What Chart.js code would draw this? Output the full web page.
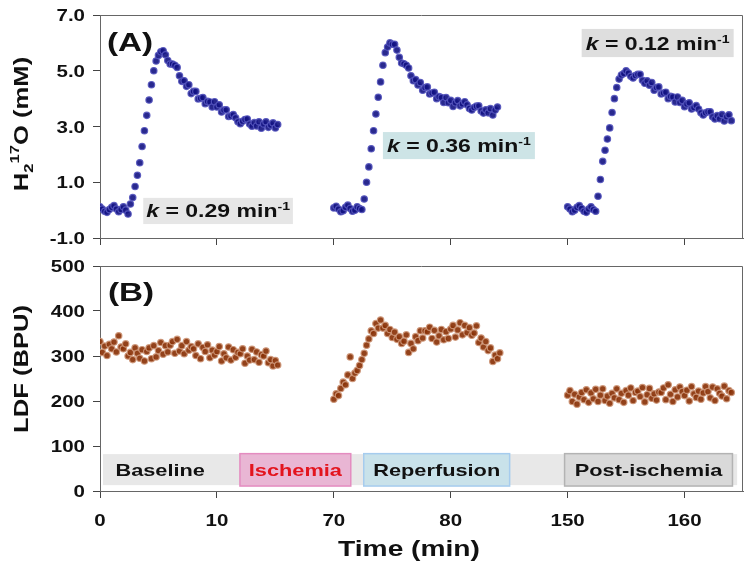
<!DOCTYPE html>
<html>
<head>
<meta charset="utf-8">
<title>H2 17O and LDF time course</title>
<script src="https://cdn.jsdelivr.net/npm/chart.js@4.4.1/dist/chart.umd.min.js"></script>
<style>
  body { margin: 0; background: #fff; }
  #wrap { position: relative; width: 750px; height: 570px; }
  #wrap canvas { position: absolute; left: 0; }
</style>
</head>
<body>
<div id="wrap">
  <canvas id="chartA" width="750" height="250" style="top:0px"></canvas>
  <canvas id="chartB" width="750" height="320" style="top:250px"></canvas>
</div>
<script>
// sampling and axis breaks
var sampleStep = 0.2;              // minutes between readings
var windowStart = [0, 70, 150];    // start of each recording window (min)
var axisCut = [0, 50, 110];        // minutes removed by each break of the time axis

var timeTicks = [0, 10, 20, 30, 40, 50];
var timeTickLabels = ['0', '10', '70', '80', '150', '160'];
var h2oTicks = [-1, 1, 3, 5, 7];
var ldfTicks = [0, 100, 200, 300, 400, 500];

// (A) H2 17O, mM
var h2oWindow1 = [
  0.12, 0.04, -0.04, -0.08, 0.02, 0.10, 0.16, 0.04, -0.06, 0.02, 0.12, 0.00, -0.14,
  0.22, 0.45, 0.85, 1.25, 1.70, 2.28, 2.85, 3.40, 3.95, 4.50, 5.00, 5.35, 5.55, 5.68,
  5.72, 5.57, 5.37, 5.24, 5.24, 5.20, 5.12, 4.82, 4.62, 4.64,
  4.44, 4.50, 4.18, 4.26, 4.26, 3.99, 4.01, 4.04, 3.82, 3.90,
  3.88, 3.70, 3.89, 3.70, 3.78, 3.52, 3.59, 3.60, 3.36, 3.38,
  3.43, 3.31, 3.17, 3.10, 3.19, 3.25, 3.27, 3.09, 3.01, 3.14,
  3.02, 3.17, 2.94, 3.09, 3.17, 2.97, 3.05, 3.13, 2.95, 3.07
];
var h2oWindow2 = [
  0.08, 0.14, 0.04, -0.06, -0.02, 0.10, 0.18, 0.06, -0.04, 0.00, 0.12, 0.06, 0.02,
  0.40, 1.00, 1.55, 2.20, 2.85, 3.45, 4.05, 4.60, 5.20, 5.65, 5.85, 6.00, 5.95,
  5.95, 5.74, 5.48, 5.28, 5.25, 5.20, 5.10, 4.82, 4.64, 4.68,
  4.49, 4.58, 4.30, 4.40, 4.42, 4.17, 4.20, 4.23, 4.00, 4.07,
  4.04, 3.86, 4.04, 3.85, 3.94, 3.72, 3.85, 3.93, 3.74, 3.81,
  3.89, 3.78, 3.65, 3.59, 3.68, 3.73, 3.74, 3.56, 3.48, 3.60,
  3.49, 3.64, 3.41, 3.59, 3.70
];
var h2oWindow3 = [
  0.12, 0.04, -0.06, 0.00, 0.10, 0.16, 0.06, -0.04, -0.08, 0.04, 0.12, 0.02, -0.04,
  0.50, 1.10, 1.75, 2.15, 2.55, 2.95, 3.50, 4.00, 4.40, 4.70, 4.85, 4.90,
  5.00, 4.92, 4.80, 4.74, 4.83, 4.87, 4.87, 4.66, 4.55, 4.64,
  4.48, 4.58, 4.30, 4.40, 4.42, 4.17, 4.20, 4.23, 4.00, 4.08,
  4.06, 3.88, 4.06, 3.86, 3.94, 3.71, 3.81, 3.85, 3.63, 3.68,
  3.75, 3.63, 3.49, 3.41, 3.49, 3.53, 3.53, 3.35, 3.27, 3.39,
  3.28, 3.43, 3.20, 3.35, 3.42, 3.21
];

// (B) LDF, BPU
var ldfWindow1 = [
  332, 308, 322, 301, 326, 316, 331, 309, 345, 320,
  316, 327, 300, 308, 292, 318, 306, 295, 314, 289,
  310, 318, 294, 323, 298, 312, 330, 304, 323, 309,
  324, 332, 306, 337, 311, 323, 305, 332, 313, 321,
  316, 301, 327, 294, 319, 310, 325, 296, 313, 302,
  310, 321, 289, 305, 296, 320, 291, 314, 297, 308,
  305, 316, 284, 300, 291, 315, 292, 309, 286, 303,
  300, 311, 285, 292, 278, 290, 280
];
var ldfWindow2 = [
  204, 216, 212, 228, 242, 236, 258, 298, 250, 262,
  268, 279, 292, 306, 324, 338, 356, 350, 372, 362,
  380, 362, 368, 350, 359, 341, 353, 337, 343, 328,
  333, 347, 308, 328, 316, 343, 334, 356, 340, 356,
  354, 364, 339, 357, 331, 345, 359, 336, 354, 339,
  360, 368, 342, 358, 374, 347, 368, 352, 363, 346,
  351, 367, 330, 340, 320, 332, 312, 318, 288, 302,
  294, 307
];
var ldfWindow3 = [
  213, 223, 199, 215, 193, 209, 219, 203, 225, 197,
  218, 205, 226, 199, 213, 227, 201, 211, 195, 217,
  207, 227, 203, 217, 197, 223, 213, 229, 201, 219,
  222, 210, 230, 198, 214, 228, 206, 216, 202, 220,
  219, 229, 203, 236, 215, 199, 225, 209, 231, 221,
  212, 224, 200, 232, 216, 208, 222, 204, 218, 232,
  221, 207, 231, 201, 227, 217, 211, 233, 205, 223,
  219
];

var kRates = ['0.29', '0.36', '0.12'];
var phaseNames = ['Baseline', 'Ischemia', 'Reperfusion', 'Post-ischemia'];

// label boxes, in axis units (x is minutes on the cut axis)
var kBoxes = [
  { x0: 3.7, x1: 16.5, y0: -0.5, y1: 0.44, fill: '#e6e6e6' },
  { x0: 24.2, x1: 37.2, y0: 1.83, y1: 2.8, fill: '#cde4e6' },
  { x0: 41.2, x1: 54.2, y0: 5.49, y1: 6.5, fill: '#dedede' }
];
var phaseBand = { x0: 0.26, x1: 54.5, y0: 13, y1: 82, fill: '#e8e8e8' };
var phaseBoxes = [
  { x0: 0.9, x1: 9.4, fill: null, edge: null, color: '#111' },
  { x0: 11.97, x1: 21.45, fill: '#e9b6d4', edge: '#e48cc0', color: '#e3141e' },
  { x0: 22.56, x1: 35.04, fill: '#c9e2ea', edge: '#a6ccee', color: '#111' },
  { x0: 39.74, x1: 54.1, fill: '#d9d9d9', edge: '#b3b3b3', color: '#111' }
];

var STRETCH = 1.28;
var FAMILY = '"Liberation Sans", Arial, sans-serif';

function font(size, italic) {
  return (italic ? 'italic ' : '') + 'bold ' + size + 'px ' + FAMILY;
}

function toPoints(windows) {
  var pts = [];
  windows.forEach(function (vals, w) {
    vals.forEach(function (v, i) {
      pts.push({ x: windowStart[w] + i * sampleStep - axisCut[w], y: v });
    });
  });
  return pts;
}

// draws runs of text, stretched a little sideways like the original figure
function drawText(ctx, runs, x, y, align, rotated) {
  ctx.save();
  ctx.translate(x, y);
  if (rotated) ctx.rotate(-Math.PI / 2);
  ctx.scale(STRETCH, 1);
  var total = 0;
  runs.forEach(function (r) {
    ctx.font = r.font;
    r.w = ctx.measureText(r.text).width;
    total += r.w;
  });
  var cx = align === 'center' ? -total / 2 : (align === 'right' ? -total : 0);
  ctx.textAlign = 'left';
  ctx.textBaseline = 'alphabetic';
  runs.forEach(function (r) {
    ctx.font = r.font;
    ctx.fillStyle = r.color || '#111';
    ctx.fillText(r.text, cx, r.dy || 0);
    cx += r.w;
  });
  ctx.restore();
}

function drawFrame(chart) {
  var a = chart.chartArea, ctx = chart.ctx;
  var l = Math.round(a.left) + 0.5, r = Math.round(a.right) - 0.5, t = Math.round(a.top) + 0.5;
  ctx.save();
  ctx.strokeStyle = '#666';
  ctx.lineWidth = 1;
  ctx.beginPath();
  ctx.moveTo(l, t);
  ctx.lineTo(r, t);
  ctx.lineTo(r, a.bottom);
  ctx.stroke();
  ctx.restore();
}

function drawYTickLabels(chart, values, digits) {
  var s = chart.scales.y;
  values.forEach(function (v) {
    drawText(chart.ctx, [{ text: v.toFixed(digits), font: font(16) }], 85, s.getPixelForValue(v) + 6, 'right');
  });
}

function rect(chart, b) {
  var xs = chart.scales.x, ys = chart.scales.y;
  var x0 = xs.getPixelForValue(b.x0), x1 = xs.getPixelForValue(b.x1);
  var y0 = ys.getPixelForValue(b.y1), y1 = ys.getPixelForValue(b.y0);
  return { x: x0, y: y0, w: x1 - x0, h: y1 - y0, cx: (x0 + x1) / 2, cy: (y0 + y1) / 2 };
}

function scaleOptions(yMin, yMax, yTicks, xHeight) {
  var tickGrid = { drawOnChartArea: false, drawTicks: true, tickLength: 7, color: '#444', lineWidth: 1 };
  return {
    x: {
      type: 'linear', min: 0, max: 55,
      afterBuildTicks: function (s) { s.ticks = timeTicks.map(function (v) { return { value: v }; }); },
      afterFit: function (s) { s.height = xHeight; },
      ticks: { display: false },
      grid: tickGrid,
      border: { display: true, color: '#666', width: 1 }
    },
    y: {
      type: 'linear', min: yMin, max: yMax,
      afterBuildTicks: function (s) { s.ticks = yTicks.map(function (v) { return { value: v }; }); },
      afterFit: function (s) { s.width = 100; },
      ticks: { display: false },
      grid: tickGrid,
      border: { display: true, color: '#666', width: 1 }
    }
  };
}

function chartOptions(padTop, scales) {
  return {
    responsive: false,
    animation: false,
    events: [],
    layout: { padding: { top: padTop, right: 7, left: 0, bottom: 0 } },
    plugins: { legend: { display: false }, tooltip: { enabled: false } },
    elements: { point: { radius: 3.2, borderWidth: 1.2 } },
    scales: scales
  };
}

var decorA = {
  id: 'decorA',
  afterDraw: function (chart) {
    var ctx = chart.ctx;
    drawFrame(chart);
    drawYTickLabels(chart, h2oTicks, 1);
    drawText(ctx, [
      { text: 'H', font: font(20) },
      { text: '2', font: font(13), dy: 5 },
      { text: '17', font: font(13), dy: -9 },
      { text: 'O (mM)', font: font(20) }
    ], 28, 124, 'center', true);
    drawText(ctx, [{ text: '(A)', font: font(26) }], 107, 51, 'left');

    kBoxes.forEach(function (b, i) {
      var r = rect(chart, b);
      ctx.fillStyle = b.fill;
      ctx.fillRect(r.x, r.y, r.w, r.h);
      drawText(ctx, [
        { text: 'k', font: font(18, true) },
        { text: ' = ' + kRates[i] + ' min', font: font(18) },
        { text: '-1', font: font(11), dy: -7 }
      ], r.cx, r.cy + 6.5, 'center');
    });
  }
};

var decorB = {
  id: 'decorB',
  afterDraw: function (chart) {
    var ctx = chart.ctx;
    var xs = chart.scales.x;

    var band = rect(chart, phaseBand);
    ctx.fillStyle = phaseBand.fill;
    ctx.fillRect(band.x, band.y, band.w, band.h);
    phaseBoxes.forEach(function (b, i) {
      var r = rect(chart, { x0: b.x0, x1: b.x1, y0: 11, y1: 83 });
      if (b.fill) {
        ctx.fillStyle = b.fill;
        ctx.fillRect(r.x, r.y, r.w, r.h);
        ctx.strokeStyle = b.edge;
        ctx.lineWidth = 1.5;
        ctx.strokeRect(r.x, r.y, r.w, r.h);
      }
      drawText(ctx, [{ text: phaseNames[i], font: font(17), color: b.color }], r.cx, r.cy + 6, 'center');
    });

    drawFrame(chart);
    drawYTickLabels(chart, ldfTicks, 0);
    timeTicks.forEach(function (v, i) {
      drawText(ctx, [{ text: timeTickLabels[i], font: font(16) }], xs.getPixelForValue(v), 276, 'center');
    });
    drawText(ctx, [{ text: 'Time (min)', font: font(22) }], 409, 306, 'center');
    drawText(ctx, [{ text: 'LDF (BPU)', font: font(20) }], 28, 119, 'center', true);
    drawText(ctx, [{ text: '(B)', font: font(26) }], 108, 51, 'left');
  }
};

new Chart(document.getElementById('chartA').getContext('2d'), {
  type: 'scatter',
  data: {
    datasets: [{
      label: 'H2 17O',
      data: toPoints([h2oWindow1, h2oWindow2, h2oWindow3]),
      backgroundColor: 'rgba(18,18,130,0.9)',
      borderColor: 'rgba(85,85,190,0.9)'
    }]
  },
  options: chartOptions(15, scaleOptions(-1, 7, h2oTicks, 12)),
  plugins: [decorA]
});

new Chart(document.getElementById('chartB').getContext('2d'), {
  type: 'scatter',
  data: {
    datasets: [{
      label: 'LDF',
      data: toPoints([ldfWindow1, ldfWindow2, ldfWindow3]),
      backgroundColor: 'rgba(138,50,8,0.92)',
      borderColor: 'rgba(205,150,120,0.9)'
    }]
  },
  options: chartOptions(16, scaleOptions(0, 500, ldfTicks, 79)),
  plugins: [decorB]
});
</script>
</body>
</html>
